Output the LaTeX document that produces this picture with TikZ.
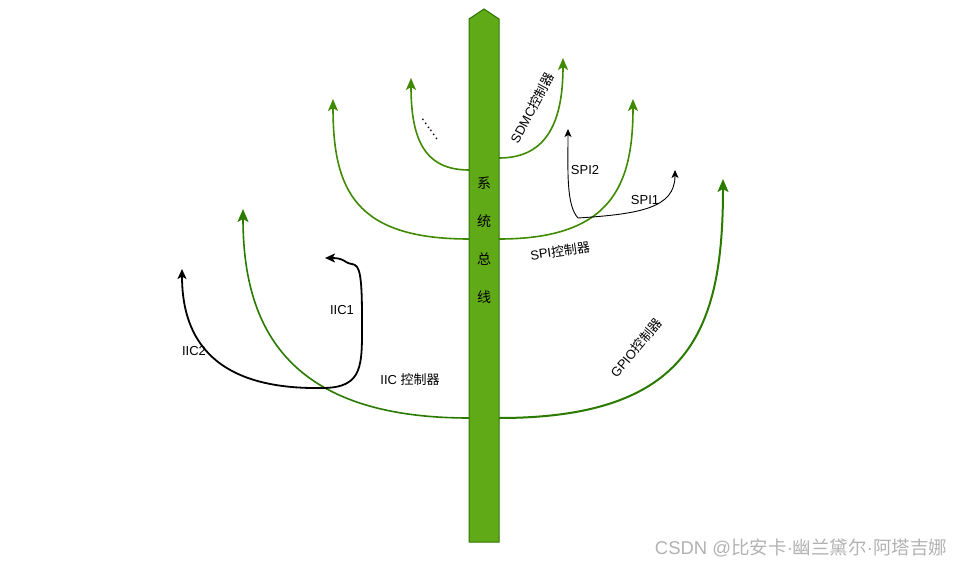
\documentclass[tikz,border=0pt]{standalone}
\usepackage{fontspec}
\setmainfont{Liberation Sans}
\newfontfamily\cjk{Noto Sans CJK SC}
\usetikzlibrary{arrows.meta}
\definecolor{barfill}{HTML}{60A917}
\definecolor{barline}{HTML}{2D7600}
\definecolor{armgreen}{HTML}{3F8A00}
\definecolor{gpiogreen}{HTML}{2A7A00}
\tikzset{
  x=1pt,y=-1pt,
  arm/.style={draw=armgreen,line width=1.6pt,-{Stealth[length=12pt,width=10pt,inset=3pt]}},
  gpioarm/.style={draw=gpiogreen,line width=2pt,-{Stealth[length=13pt,width=11pt,inset=3pt]}},
  thinarrow/.style={draw=black,line width=0.9pt,-{Stealth[length=8pt,width=7pt,inset=2pt]}},
  thickarrow/.style={draw=black,line width=1.8pt,-{Stealth[length=10pt,width=9pt,inset=2.5pt]}},
  lbl/.style={font=\fontsize{13}{15}\selectfont,inner sep=0pt},
  bartxt/.style={font=\cjk\fontsize{14}{16}\selectfont,inner sep=0pt}
}
\begin{document}
\begin{tikzpicture}
\useasboundingbox (0,0) rectangle (966,567);
% named points
\coordinate (sdmcL0) at (469,170); \coordinate (sdmcL1) at (411,78);
\coordinate (sdmcR0) at (499,158); \coordinate (sdmcR1) at (563,58);
\coordinate (spiL0) at (469,239); \coordinate (spiL1) at (333,99);
\coordinate (spiR0) at (499,239); \coordinate (spiR1) at (633,99);
\coordinate (gpioL0) at (469,418); \coordinate (gpioL1) at (243,209);
\coordinate (gpioR0) at (499,418); \coordinate (gpioR1) at (723,179);
\coordinate (spiHub) at (578,218); \coordinate (spi2) at (568,129); \coordinate (spi1) at (675,170);
\coordinate (iicHub) at (322,388); \coordinate (iic2) at (182,269); \coordinate (iic1) at (325,258);
% green arms
\draw[arm] (sdmcL0) .. controls (425,170) and (411,140) .. (sdmcL1);
\draw[arm] (sdmcR0) .. controls (548,158) and (563,120) .. (sdmcR1);
\draw[arm] (spiL0) .. controls (355,239) and (333,190) .. (spiL1);
\draw[arm] (spiR0) .. controls (612,239) and (633,185) .. (spiR1);
\draw[gpioarm,line width=1.6pt] (gpioL0) .. controls (290,418) and (243,330) .. (gpioL1);
\draw[gpioarm] (gpioR0) .. controls (690,418) and (723,330) .. (gpioR1);
% black sub-branches
\draw[thinarrow] (spiHub) .. controls (566,205) and (568,170) .. (spi2);
\draw[thinarrow] (spiHub) .. controls (640,214) and (675,208) .. (spi1);
\draw[thickarrow] (iicHub) .. controls (205,390) and (182,330) .. (iic2);
\draw[thickarrow] (iicHub) .. controls (364,388) and (362,365) .. (362,320)
   .. controls (362,275) and (360,265) .. (352,264)
   .. controls (344,263) and (345,258) .. (iic1);
% bus bar
\draw[fill=barfill,draw=barline,line width=1pt]
  (469,542) -- (469,19) -- (484,9) -- (499,19) -- (499,542) -- cycle;
\node[bartxt] (t1) at (484,183) {系};
\node[bartxt] (t2) at (484,221) {统};
\node[bartxt] (t3) at (484,259) {总};
\node[bartxt] (t4) at (484,297) {线};
% labels
\node[lbl,rotate=62] (lsdmc) at (532,108) {SDMC{\cjk 控制器}};
\node[lbl,rotate=-55] (ldots) at (430,129) {{\cjk ……}};
\node[lbl,rotate=8] (lspi) at (560,251) {SPI{\cjk 控制器}};
\node[lbl] (lspi2) at (585,170) {SPI2};
\node[lbl] (lspi1) at (645,200) {SPI1};
\node[lbl,rotate=50] (lgpio) at (636,348) {GPIO{\cjk 控制器}};
\node[lbl] (liic1) at (342,310) {IIC1};
\node[lbl] (liic2) at (194,351) {IIC2};
\node[lbl] (liic) at (410,380) {IIC {\cjk 控制器}};
\node[font=\fontsize{18.5}{20}\selectfont,text=black!30,inner sep=0pt] (wm) at (801,548) {CSDN @{\cjk 比安卡}·{\cjk 幽兰黛尔}·{\cjk 阿塔吉娜}};
\end{tikzpicture}
\end{document}
